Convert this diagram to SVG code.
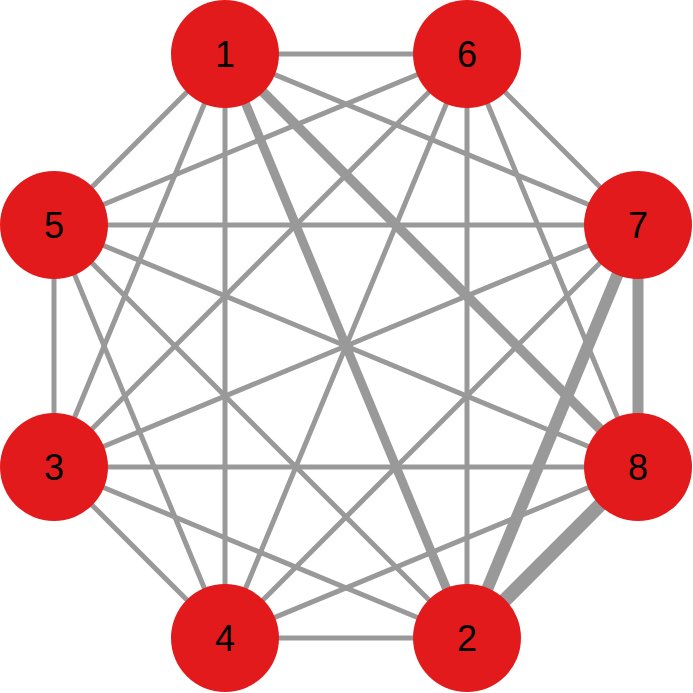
<svg xmlns="http://www.w3.org/2000/svg" width="693" height="693" viewBox="0 0 693 693">
<style>
.e{stroke:#999999;stroke-width:5;fill:none}
.n circle{fill:#e31a1c}
.n text{font-family:"Liberation Sans",Arial,sans-serif;font-size:36px;fill:#000;text-anchor:middle}
</style>
<rect width="693" height="693" fill="#fff"/>
<g id="edges">
<line class="e" x1="225" y1="54" x2="467" y2="54"/>
<line class="e" x1="225" y1="54" x2="54" y2="225"/>
<line class="e" x1="225" y1="54" x2="54" y2="467"/>
<line class="e" x1="225" y1="54" x2="225" y2="638"/>
<line class="e" x1="225" y1="54" x2="467" y2="638" style="stroke-width:9"/>
<line class="e" x1="225" y1="54" x2="638" y2="467" style="stroke-width:10"/>
<line class="e" x1="225" y1="54" x2="638" y2="225"/>
<line class="e" x1="467" y1="54" x2="54" y2="225"/>
<line class="e" x1="467" y1="54" x2="54" y2="467"/>
<line class="e" x1="467" y1="54" x2="225" y2="638"/>
<line class="e" x1="467" y1="54" x2="467" y2="638"/>
<line class="e" x1="467" y1="54" x2="638" y2="467"/>
<line class="e" x1="467" y1="54" x2="638" y2="225"/>
<line class="e" x1="54" y1="225" x2="638" y2="225"/>
<line class="e" x1="54" y1="225" x2="638" y2="467"/>
<line class="e" x1="54" y1="225" x2="467" y2="638"/>
<line class="e" x1="54" y1="225" x2="225" y2="638"/>
<line class="e" x1="54" y1="225" x2="54" y2="467"/>
<line class="e" x1="638" y1="225" x2="54" y2="467"/>
<line class="e" x1="638" y1="225" x2="225" y2="638"/>
<line class="e" x1="638" y1="225" x2="467" y2="638" style="stroke-width:12"/>
<line class="e" x1="638" y1="225" x2="638" y2="467" style="stroke-width:11"/>
<line class="e" x1="54" y1="467" x2="638" y2="467"/>
<line class="e" x1="54" y1="467" x2="467" y2="638"/>
<line class="e" x1="54" y1="467" x2="225" y2="638"/>
<line class="e" x1="638" y1="467" x2="225" y2="638"/>
<line class="e" x1="638" y1="467" x2="467" y2="638" style="stroke-width:14"/>
<line class="e" x1="225" y1="638" x2="467" y2="638"/>
</g>
<g id="node1" class="n"><circle cx="225" cy="54" r="54"/><text x="225" y="67">1</text></g>
<g id="node6" class="n"><circle cx="467" cy="54" r="54"/><text x="467" y="67">6</text></g>
<g id="node5" class="n"><circle cx="54" cy="225" r="54"/><text x="54" y="238">5</text></g>
<g id="node7" class="n"><circle cx="638" cy="225" r="54"/><text x="638" y="238">7</text></g>
<g id="node3" class="n"><circle cx="54" cy="467" r="54"/><text x="54" y="480">3</text></g>
<g id="node8" class="n"><circle cx="638" cy="467" r="54"/><text x="638" y="480">8</text></g>
<g id="node4" class="n"><circle cx="225" cy="638" r="54"/><text x="225" y="651">4</text></g>
<g id="node2" class="n"><circle cx="467" cy="638" r="54"/><text x="467" y="651">2</text></g>
</svg>
